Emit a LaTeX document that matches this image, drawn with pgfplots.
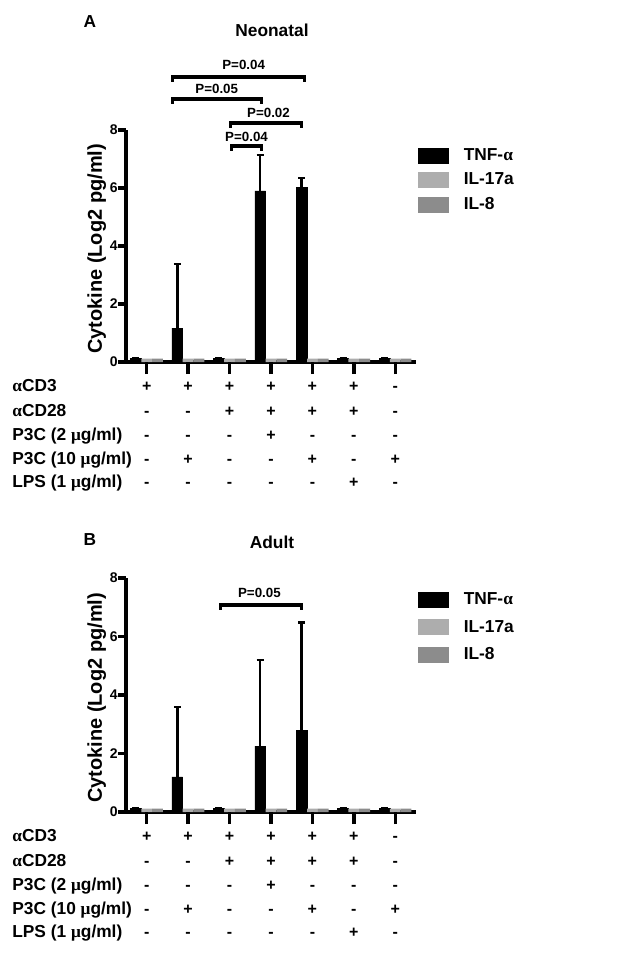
\documentclass[border=0pt]{standalone}
\usepackage{pgfplots}
\pgfplotsset{compat=1.18}
\usepackage{fontspec}
\setmainfont{Liberation Sans}
\newfontfamily\serf{Liberation Serif}
\definecolor{gA}{HTML}{ADADAD}
\definecolor{gB}{HTML}{8C8C8C}
\newcommand{\fs}[1]{\fontsize{#1}{#1}\selectfont\bfseries}
\newcommand{\al}{{\serf\bfseries α}}
\newcommand{\mi}{{\serf μ}}
% row of conditions: #1 yshift, #2 label, #3..#9 signs
\newcommand{\signrow}[9]{%
  \node[anchor=base west, inner sep=0pt, font=\fs{13}, yshift=#1] at (axis cs:-2.25,0) {#2};
  \node[anchor=base, inner sep=0pt, font=\fs{12}, yshift=#1] at (axis cs:1,0) {#3};
  \node[anchor=base, inner sep=0pt, font=\fs{12}, yshift=#1] at (axis cs:2,0) {#4};
  \node[anchor=base, inner sep=0pt, font=\fs{12}, yshift=#1] at (axis cs:3,0) {#5};
  \node[anchor=base, inner sep=0pt, font=\fs{12}, yshift=#1] at (axis cs:4,0) {#6};
  \node[anchor=base, inner sep=0pt, font=\fs{12}, yshift=#1] at (axis cs:5,0) {#7};
  \node[anchor=base, inner sep=0pt, font=\fs{12}, yshift=#1] at (axis cs:6,0) {#8};
  \node[anchor=base, inner sep=0pt, font=\fs{12}, yshift=#1] at (axis cs:7,0) {#9};
}
\newcommand{\xt}[1]{\fill[black] ([xshift=-1.3pt]axis cs:#1,0) rectangle ([xshift=1.3pt,yshift=-9pt]axis cs:#1,0);}
\newcommand{\conditions}{%
  \signrow{-21.75pt}{\al CD3}{+}{+}{+}{+}{+}{+}{-}
  \signrow{-40.5pt}{\al CD28}{-}{-}{+}{+}{+}{+}{-}
  \signrow{-58.9pt}{P3C (2 \mi g/ml)}{-}{-}{-}{+}{-}{-}{-}
  \signrow{-76.5pt}{P3C (10 \mi g/ml)}{-}{+}{-}{-}{+}{-}{+}
  \signrow{-94.1pt}{LPS (1 \mi g/ml)}{-}{-}{-}{-}{-}{+}{-}
  \node[rotate=90, anchor=base, inner sep=0pt, font=\fs{15}] at (axis cs:-0.08,3.9) {Cytokine (Log2 pg/ml)};
  \xt{1}\xt{2}\xt{3}\xt{4}\xt{5}\xt{6}\xt{7}
}
\pgfplotsset{panel/.style={
  scale only axis, width=217.5pt,
  xmin=0.5, xmax=7.5, ymin=0, ymax=8,
  axis lines*=left,
  x axis line style={line width=2.6pt},
  y axis line style={line width=2.6pt},
  clip=false, ybar=0pt, bar width=8.1pt,
  xtick={1,2,3,4,5,6,7}, xticklabels={,,,,,,}, ytick={0,2,4,6,8},
  xtick align=outside, ytick align=outside,
  major tick length=6pt,
  major tick style={line width=2.6pt, black},
  major x tick style={line width=2.6pt, black, /pgfplots/major tick length=9pt},
  yticklabel style={font=\fs{10.5}, xshift=3.2pt},
  /pgf/number format/assume math mode=true,
  legend cell align=left,
  legend style={draw=none, fill=none, anchor=north west, xshift=1.5pt,
    font=\fs{13}, inner sep=0pt,
    nodes={inner sep=0pt, text height=9.3pt, text depth=1.95pt},
    /tikz/every odd column/.append style={column sep=11.25pt}},
  errb/.style={error bars/.cd, y dir=plus, y explicit,
    error bar style={line width=1.8pt, black},
    error mark options={rotate=90, line width=1.8pt, mark size=2.6pt, black}},
}}
\begin{document}
\begin{tikzpicture}
\useasboundingbox (0,0) rectangle (471.75pt,-720.75pt);
\node[font=\fs{13}] at (67.5pt,-16.5pt) {A};
\node[font=\fs{13}] at (204pt,-22.5pt) {Neonatal};
\node[font=\fs{13}] at (67.5pt,-405pt) {B};
\node[font=\fs{13}] at (204pt,-406.5pt) {Adult};
% ---------- Panel A ----------
\begin{axis}[panel, at={(94.5pt,-271.5pt)}, anchor=south west, height=174pt,
  legend style={at={(1,0.925)}, row sep=6.75pt}]
\addlegendimage{legend image code/.code={\fill[black] (0pt,-5.625pt) rectangle (22.5pt,5.625pt);}}
\addlegendentry{TNF-\al}
\addlegendimage{legend image code/.code={\fill[gA] (0pt,-5.625pt) rectangle (22.5pt,5.625pt);}}
\addlegendentry{IL-17a}
\addlegendimage{legend image code/.code={\fill[gB] (0pt,-5.625pt) rectangle (22.5pt,5.625pt);}}
\addlegendentry{IL-8}
\addplot[fill=black, draw=black, bar shift=-8.1pt, forget plot, errb] coordinates {
 (1,0.12) +- (0,0) (2,1.17) +- (0,2.21) (3,0.12) +- (0,0) (4,5.9) +- (0,1.24)
 (5,6.03) +- (0,0.31) (6,0.12) +- (0,0) (7,0.12) +- (0,0)};
\addplot[fill=gA, draw=none, bar shift=0pt, forget plot] coordinates {
 (1,0.12) (2,0.12) (3,0.12) (4,0.12) (5,0.12) (6,0.12) (7,0.12)};
\addplot[fill=gB, draw=none, bar shift=8.1pt, forget plot] coordinates {
 (1,0.12) (2,0.12) (3,0.12) (4,0.12) (5,0.12) (6,0.12) (7,0.12)};
\conditions
\draw[line width=2.4pt] (axis cs:1.63,9.66) |- (axis cs:4.81,9.83) -- (axis cs:4.81,9.66);
\node[font=\fs{10}] at (axis cs:3.34,10.24) {P=0.04};
\draw[line width=2.4pt] (axis cs:1.63,8.90) |- (axis cs:3.77,9.07) -- (axis cs:3.77,8.90);
\node[font=\fs{10}] at (axis cs:2.69,9.41) {P=0.05};
\draw[line width=2.4pt] (axis cs:3.02,8.07) |- (axis cs:4.73,8.24) -- (axis cs:4.73,8.07);
\node[font=\fs{10}] at (axis cs:3.94,8.59) {P=0.02};
\draw[line width=2.4pt] (axis cs:3.05,7.28) |- (axis cs:3.77,7.45) -- (axis cs:3.77,7.28);
\node[font=\fs{10}] at (axis cs:3.41,7.76) {P=0.04};
\end{axis}
% ---------- Panel B ----------
\begin{axis}[panel, at={(94.5pt,-609pt)}, anchor=south west, height=175.5pt,
  legend style={at={(1,0.942)}, row sep=9pt}]
\addlegendimage{legend image code/.code={\fill[black] (0pt,-5.625pt) rectangle (22.5pt,5.625pt);}}
\addlegendentry{TNF-\al}
\addlegendimage{legend image code/.code={\fill[gA] (0pt,-5.625pt) rectangle (22.5pt,5.625pt);}}
\addlegendentry{IL-17a}
\addlegendimage{legend image code/.code={\fill[gB] (0pt,-5.625pt) rectangle (22.5pt,5.625pt);}}
\addlegendentry{IL-8}
\addplot[fill=black, draw=black, bar shift=-8.1pt, forget plot, errb] coordinates {
 (1,0.12) +- (0,0) (2,1.2) +- (0,2.4) (3,0.12) +- (0,0) (4,2.25) +- (0,2.95)
 (5,2.78) +- (0,3.7) (6,0.12) +- (0,0) (7,0.12) +- (0,0)};
\addplot[fill=gA, draw=none, bar shift=0pt, forget plot] coordinates {
 (1,0.12) (2,0.12) (3,0.12) (4,0.12) (5,0.12) (6,0.12) (7,0.12)};
\addplot[fill=gB, draw=none, bar shift=8.1pt, forget plot] coordinates {
 (1,0.12) (2,0.12) (3,0.12) (4,0.12) (5,0.12) (6,0.12) (7,0.12)};
\conditions
\draw[line width=2.4pt] (axis cs:2.78,6.91) |- (axis cs:4.73,7.08) -- (axis cs:4.73,6.91);
\node[font=\fs{10}] at (axis cs:3.72,7.49) {P=0.05};
\end{axis}
\end{tikzpicture}
\end{document}
